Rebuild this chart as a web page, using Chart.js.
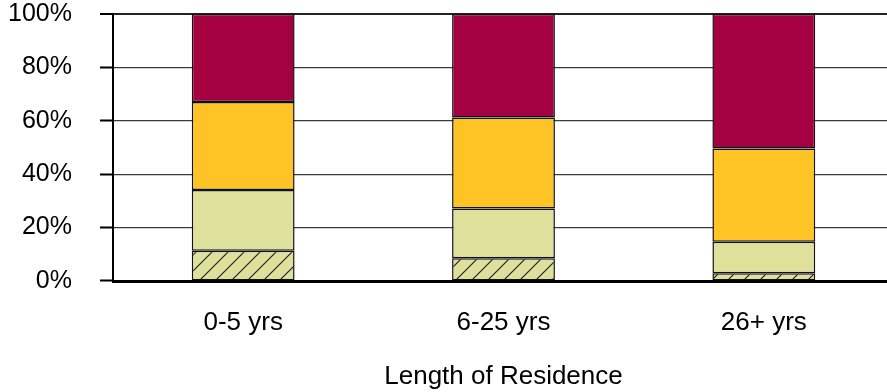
<!DOCTYPE html>
<html>
<head>
<meta charset="utf-8">
<script src="https://cdn.jsdelivr.net/npm/chart.js@4"></script>
<style>
  html, body { margin: 0; padding: 0; background: #fff; overflow: hidden; }
  #wrap { width: 900px; height: 392px; }
</style>
</head>
<body>
<div id="wrap"><canvas id="chart"></canvas></div>
<script>
var categories = ['0-5 yrs', '6-25 yrs', '26+ yrs'];
var seriesHatched = [11.3, 8.5, 2.9];
var seriesLight = [22.8, 18.7, 11.8];
var seriesOrange = [32.9, 34.0, 34.9];
var seriesMaroon = [33.0, 38.8, 50.4];
var yTicks = [0, 20, 40, 60, 80, 100];

function hatchPattern() {
  var c = document.createElement('canvas');
  c.width = 16; c.height = 16;
  var g = c.getContext('2d');
  g.fillStyle = '#DEE09B';
  g.fillRect(0, 0, 16, 16);
  g.strokeStyle = '#222';
  g.lineWidth = 1.2;
  g.beginPath();
  g.moveTo(0, 16); g.lineTo(16, 0);
  g.moveTo(-4, 4); g.lineTo(4, -4);
  g.moveTo(12, 20); g.lineTo(20, 12);
  g.stroke();
  return document.getElementById('chart').getContext('2d').createPattern(c, 'repeat');
}

document.addEventListener('DOMContentLoaded', function () {
  var ctx = document.getElementById('chart').getContext('2d');
  var common = { borderColor: '#111', borderWidth: 1.5, borderSkipped: false, barPercentage: 0.395, categoryPercentage: 1 };
  new Chart(ctx, {
    type: 'bar',
    data: {
      labels: categories,
      datasets: [
        Object.assign({ label: 'a', data: seriesHatched, backgroundColor: hatchPattern() }, common),
        Object.assign({ label: 'b', data: seriesLight, backgroundColor: '#DEE09B' }, common),
        Object.assign({ label: 'c', data: seriesOrange, backgroundColor: '#FEC425' }, common),
        Object.assign({ label: 'd', data: seriesMaroon, backgroundColor: '#A40042' }, common)
      ]
    },
    options: {
      responsive: true,
      maintainAspectRatio: false,
      animation: false,
      layout: { padding: { top: 14, right: 6, left: 0, bottom: 0 } },
      plugins: { legend: { display: false }, tooltip: { enabled: false } },
      scales: {
        x: {
          stacked: true,
          grid: { display: false, drawTicks: false },
          border: { display: true, color: '#000', width: 3 },
          ticks: { color: '#000', padding: 26, font: { family: 'Liberation Sans, Arial', size: 26 } },
          title: { display: true, text: 'Length of Residence', color: '#000', padding: { top: 0, bottom: 0 }, font: { family: 'Liberation Sans, Arial', size: 26 } },
          afterFit: function (s) { s.height = 111; }
        },
        y: {
          stacked: true,
          min: 0,
          max: 100,
          afterBuildTicks: function (s) { s.ticks = yTicks.map(function (v) { return { value: v }; }); },
          grid: {
            color: function (c) { return c.tick && c.tick.value === 100 ? '#222' : '#3a3a3a'; },
            lineWidth: function (c) { return c.tick && c.tick.value === 100 ? 2 : 1.2; },
            tickLength: 41,
            tickColor: '#000',
            tickWidth: 2,
            tickBorderDash: [0, 28, 13, 1000]
          },
          border: { display: true, color: '#000', width: 2 },
          ticks: { color: '#000', padding: 0, font: { family: 'Liberation Sans, Arial', size: 25, lineHeight: 1 }, callback: function (v) { return v + '%'; } },
          afterFit: function (s) { s.width = 113; }
        }
      }
    }
  });
});
</script>
</body>
</html>
